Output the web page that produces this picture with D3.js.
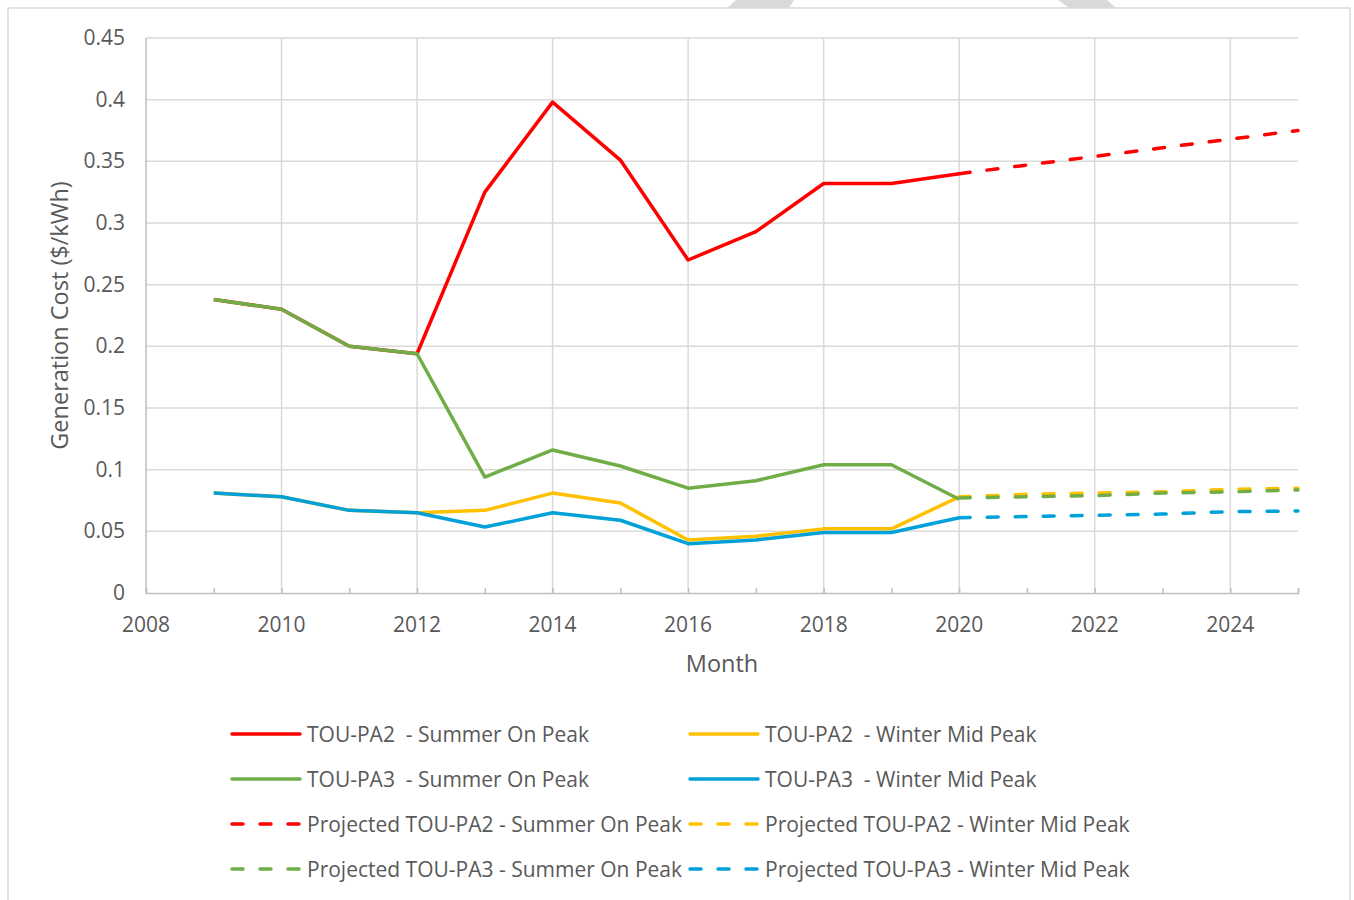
<!DOCTYPE html>
<html>
<head>
<meta charset="utf-8">
<script src="https://cdn.jsdelivr.net/npm/d3@7"></script>
<style>
  html, body { margin: 0; padding: 0; background: #fff; }
  text { font-family: "Open Sans", sans-serif; fill: #595959; white-space: pre; }
</style>
</head>
<body>
<div id="chart"></div>
<script>
// years of the actual series and of the projections
const years = [2009, 2010, 2011, 2012, 2013, 2014, 2015, 2016, 2017, 2018, 2019, 2020];
const projYears = [2020, 2021, 2022, 2023, 2024, 2025];

// actual values ($/kWh)
const pa2Summer = [0.238, 0.230, 0.200, 0.194, 0.325, 0.398, 0.351, 0.270, 0.293, 0.332, 0.332, 0.340];
const pa2Winter = [0.081, 0.078, 0.067, 0.065, 0.067, 0.081, 0.073, 0.043, 0.046, 0.052, 0.052, 0.078];
const pa3Summer = [0.238, 0.230, 0.200, 0.194, 0.094, 0.116, 0.103, 0.085, 0.091, 0.104, 0.104, 0.076];
const pa3Winter = [0.081, 0.078, 0.067, 0.065, 0.0535, 0.065, 0.059, 0.040, 0.043, 0.049, 0.049, 0.061];

// projected values
const projPa2Summer = [0.340, 0.347, 0.354, 0.361, 0.368, 0.375];
const projPa2Winter = [0.078, 0.080, 0.081, 0.082, 0.084, 0.085];
const projPa3Summer = [0.077, 0.078, 0.079, 0.081, 0.082, 0.0835];
const projPa3Winter = [0.061, 0.062, 0.063, 0.064, 0.066, 0.0665];

const yTicks = [0, 0.05, 0.1, 0.15, 0.2, 0.25, 0.3, 0.35, 0.4, 0.45];
const xTicks = [2008, 2010, 2012, 2014, 2016, 2018, 2020, 2022, 2024];

const colours = { red: "#FF0000", yellow: "#FFC000", green: "#70AD47", blue: "#00A1D9" };

// drawing order matters: green covers red, blue covers yellow
const series = [
  { name: "TOU-PA2  - Summer On Peak", x: years, y: pa2Summer, colour: colours.red, dashed: false },
  { name: "TOU-PA2  - Winter Mid Peak", x: years, y: pa2Winter, colour: colours.yellow, dashed: false },
  { name: "TOU-PA3  - Summer On Peak", x: years, y: pa3Summer, colour: colours.green, dashed: false },
  { name: "TOU-PA3  - Winter Mid Peak", x: years, y: pa3Winter, colour: colours.blue, dashed: false },
  { name: "Projected TOU-PA2 - Summer On Peak", x: projYears, y: projPa2Summer, colour: colours.red, dashed: true },
  { name: "Projected TOU-PA2 - Winter Mid Peak", x: projYears, y: projPa2Winter, colour: colours.yellow, dashed: true },
  { name: "Projected TOU-PA3 - Summer On Peak", x: projYears, y: projPa3Summer, colour: colours.green, dashed: true },
  { name: "Projected TOU-PA3 - Winter Mid Peak", x: projYears, y: projPa3Winter, colour: colours.blue, dashed: true },
];

const width = 1354;
const height = 900;
const plot = { left: 146, right: 1298, top: 38, bottom: 593 };

const svg = d3.select("#chart")
  .append("svg")
  .attr("width", width)
  .attr("height", height);

// chart area border and the bits of grey shape poking in at the top
svg.append("rect")
  .attr("x", 8).attr("y", 8)
  .attr("width", 1342).attr("height", 900)
  .attr("fill", "none")
  .attr("stroke", "#d9d9d9")
  .attr("stroke-width", 1.5);

svg.append("polygon")
  .attr("points", "736,0 794,0 789,8 727,8")
  .attr("fill", "#d9d9d9");
svg.append("polygon")
  .attr("points", "1058,0 1107,0 1116,8 1069,8")
  .attr("fill", "#d9d9d9");

const x = d3.scaleLinear().domain([2008, 2025]).range([plot.left, plot.right]);
const y = d3.scaleLinear().domain([0, 0.45]).range([plot.bottom, plot.top]);

// gridlines
svg.append("g")
  .selectAll("line")
  .data(yTicks.slice(1))
  .join("line")
  .attr("x1", plot.left).attr("x2", plot.right)
  .attr("y1", d => y(d)).attr("y2", d => y(d))
  .attr("stroke", "#d9d9d9")
  .attr("stroke-width", 1.5);

svg.append("g")
  .selectAll("line")
  .data(xTicks.slice(1))
  .join("line")
  .attr("x1", d => x(d)).attr("x2", d => x(d))
  .attr("y1", plot.top).attr("y2", plot.bottom)
  .attr("stroke", "#d9d9d9")
  .attr("stroke-width", 1.5);

// x axis: line, minor ticks pointing inwards, labels
const xAxis = svg.append("g")
  .attr("transform", `translate(0,${plot.bottom})`)
  .call(d3.axisBottom(x).tickValues(d3.range(2008, 2026)).tickSize(-5).tickFormat(""));
xAxis.select(".domain").attr("stroke", "#bfbfbf").attr("stroke-width", 1.5);
xAxis.selectAll(".tick line").attr("stroke", "#bfbfbf").attr("stroke-width", 1.5);

svg.append("g")
  .selectAll("text")
  .data(xTicks)
  .join("text")
  .attr("x", d => x(d))
  .attr("y", plot.bottom + 39)
  .attr("text-anchor", "middle")
  .style("font-size", "21px")
  .text(d => d);

// y axis line and labels
svg.append("line")
  .attr("x1", plot.left).attr("x2", plot.left)
  .attr("y1", plot.top).attr("y2", plot.bottom)
  .attr("stroke", "#bfbfbf")
  .attr("stroke-width", 1.5);

svg.append("g")
  .selectAll("text")
  .data(yTicks)
  .join("text")
  .attr("x", plot.left - 21)
  .attr("y", d => y(d) + 7)
  .attr("text-anchor", "end")
  .style("font-size", "21px")
  .text(d => d);

// axis titles
svg.append("text")
  .attr("transform", `translate(68,${(plot.top + plot.bottom) / 2}) rotate(-90)`)
  .attr("text-anchor", "middle")
  .style("font-size", "23.5px")
  .text("Generation Cost ($/kWh)");

svg.append("text")
  .attr("x", (plot.left + plot.right) / 2)
  .attr("y", 672)
  .attr("text-anchor", "middle")
  .style("font-size", "23.5px")
  .text("Month");

// lines
const line = d3.line()
  .x(d => x(d[0]))
  .y(d => y(d[1]));

svg.append("g")
  .selectAll("path")
  .data(series)
  .join("path")
  .attr("d", s => line(s.x.map((v, i) => [v, s.y[i]])))
  .attr("fill", "none")
  .attr("stroke", s => s.colour)
  .attr("stroke-width", 3.5)
  .attr("stroke-linejoin", "round")
  .attr("stroke-linecap", s => s.dashed ? "round" : "butt")
  .attr("stroke-dasharray", s => s.dashed ? "11,17" : null);

// legend, two columns, four rows
const legend = svg.append("g")
  .selectAll("g")
  .data(series)
  .join("g")
  .attr("transform", (d, i) => `translate(${i % 2 === 0 ? 232 : 690},${734 + Math.floor(i / 2) * 45})`);

legend.append("line")
  .attr("x1", 0).attr("x2", 68)
  .attr("stroke", d => d.colour)
  .attr("stroke-width", 3.5)
  .attr("stroke-linecap", "round")
  .attr("stroke-dasharray", d => d.dashed ? "11,17" : null);

legend.append("text")
  .attr("x", 75)
  .attr("y", 7.5)
  .style("font-size", "21px")
  .text(d => d.name);
</script>
</body>
</html>
